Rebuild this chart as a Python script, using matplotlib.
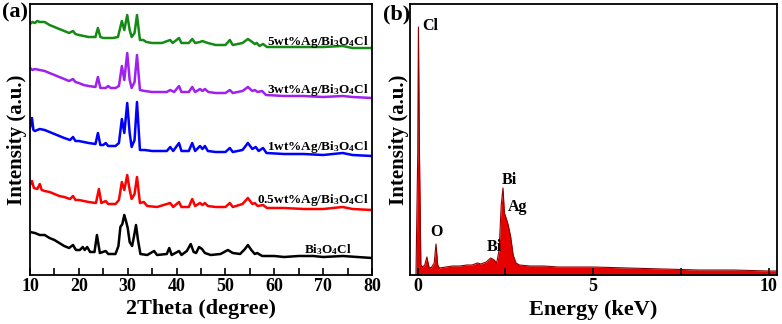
import matplotlib
matplotlib.use('Agg')
import matplotlib.pyplot as plt

plt.rcParams['font.family'] = 'Liberation Serif'
plt.rcParams['font.weight'] = 'bold'
plt.rcParams['mathtext.fontset'] = 'custom'
plt.rcParams['mathtext.rm'] = 'Liberation Serif:bold'
plt.rcParams['mathtext.it'] = 'Liberation Serif:bold'
plt.rcParams['mathtext.bf'] = 'Liberation Serif:bold'

# XRD curves, intensity above each curve's own baseline (a.u.)
bio_x = [10, 11, 12, 13, 14, 15, 16, 17, 18, 18.8, 19.4, 20.2, 20.8, 21.2, 21.7, 22.3, 23.2, 23.7, 24.3,
         25.5, 26, 27.5, 28.1, 28.5, 28.9, 29.3, 29.7, 30.0, 30.4, 30.9, 31.3, 31.7, 32.1, 32.6, 34,
         35.4, 36, 38, 38.5, 39, 40.5, 41, 42.1, 42.9, 43.5, 44, 44.6, 45.2, 45.8, 47, 49, 50.5, 51.5,
         53, 54, 54.6, 55.3, 56, 56.5, 57.5, 60, 62, 65, 68, 70, 74, 77, 80]
bio_y = [26, 25, 23, 23, 20, 18, 15, 12, 10, 13, 8, 8, 11, 8, 11, 6, 6, 23, 5,
         7, 4, 4, 12, 31, 34, 43, 36, 30, 16, 12, 22, 33, 18, 4, 3,
         7, 3, 4, 10, 3, 7, 3, 7, 14, 6, 5, 11, 9, 5, 3, 4, 8, 5,
         4, 9, 13, 8, 4, 5, 2, 2, 1, 2, 2, 1, 2, 1, 0]

ag05_x = [10, 10.4, 10.8, 11.5, 12.0, 12.4, 13, 14, 15, 16, 17, 18.2, 18.8, 19.3, 20, 21, 22, 23.5, 24.1,
          24.6, 25.5, 26, 27.5, 28.2, 28.8, 29.3, 29.9, 30.4, 30.8, 31.4, 31.9, 32.5, 33.3, 34, 36,
          38.7, 39.3, 40.5, 41, 42.5, 43.2, 43.8, 44.8, 45.3, 45.8, 46.4, 48, 50, 50.9, 51.5, 53.5,
          54.6, 55.5, 56, 56.6, 57.7, 58.5, 62, 66, 70, 74, 76, 80]
ag05_y = [25, 29, 22, 21, 26, 20, 19, 18, 16, 14, 13, 11, 14, 10, 10, 9, 8, 7, 21,
          7, 9, 6, 6, 10, 28, 20, 35, 20, 11, 16, 33, 7, 8, 4, 3,
          7, 3, 8, 3, 3, 11, 4, 7, 5, 7, 4, 3, 3, 7, 3, 6,
          12, 6, 7, 4, 5, 2, 2, 1, 1, 3, 1, 0]

ag1_x = [10, 10.4, 10.7, 11, 12, 13, 14, 15, 16, 17, 18.2, 18.8, 19.3, 20, 21, 22, 23.4, 23.9, 24.4,
         25, 25.5, 26, 27.5, 28.2, 28.8, 29.3, 29.9, 30.4, 30.8, 31.4, 31.9, 32.5, 33.5, 35, 38,
         38.7, 39.3, 40.5, 41, 42.5, 43.2, 43.8, 44.8, 45.3, 45.8, 46.4, 48, 50, 50.9, 51.5, 53.5,
         54.6, 55.5, 56.2, 56.8, 57.7, 58.4, 62, 66, 70, 74, 76, 80]
ag1_y = [28, 38, 26, 25, 27, 26, 24, 22, 20, 18, 16, 19, 15, 15, 14, 13, 12, 23, 11,
         11, 13, 10, 10, 13, 37, 23, 53, 23, 9, 16, 54, 6, 6, 5, 5,
         9, 5, 13, 5, 5, 13, 5, 10, 7, 10, 5, 4, 4, 8, 4, 6,
         13, 7, 9, 5, 8, 3, 2, 2, 1, 3, 1, 0]

ag3_x = [10, 10.5, 11, 12, 13, 14, 15, 16, 17, 18, 18.8, 19.3, 20, 21, 22, 23.4, 23.9, 24.4,
         25.5, 26, 26.5, 27.5, 28.2, 28.8, 29.3, 29.9, 30.4, 30.8, 31.4, 31.9, 32.5, 33.5, 35, 38,
         38.7, 39.5, 40.5, 41, 42.5, 43.2, 43.8, 44.8, 45.3, 45.8, 46.5, 48, 50, 50.9, 51.5, 53.5,
         54.6, 55.5, 56, 56.6, 57.5, 58.3, 62, 66, 70, 74, 76, 80]
ag3_y = [30, 28, 29, 28, 27, 25, 23, 21, 19, 17, 19, 16, 15, 13, 12, 11, 21, 10,
         10, 12, 10, 10, 12, 32, 18, 45, 18, 10, 16, 43, 8, 7, 6, 6,
         8, 6, 12, 6, 6, 11, 6, 9, 7, 9, 6, 5, 5, 8, 5, 7,
         11, 7, 8, 6, 7, 3, 2, 2, 1, 2, 1, 0]

ag5_x = [10, 10.5, 11, 11.5, 12, 13, 14, 15, 16, 17, 18, 18.8, 19.3, 20, 21, 22, 23.4, 23.9, 24.4,
         25, 26, 27, 28, 28.8, 29.3, 29.9, 30.4, 30.8, 31.4, 31.9, 32.5, 33.2, 33.8, 35, 37,
         38.7, 39.2, 40.5, 41, 42.5, 43.2, 43.8, 44.8, 45.3, 45.8, 46.4, 48, 50, 50.9, 51.5, 53.5,
         54.6, 55.5, 56, 56.4, 57, 57.7, 58.5, 62, 66, 70, 74, 76, 80]
ag5_y = [24, 26, 25, 27, 26, 26, 23, 21, 19, 17, 15, 17, 14, 13, 12, 11, 11, 20, 11,
         10, 10, 10, 11, 27, 18, 33, 18, 11, 15, 33, 8, 8, 6, 5, 5,
         8, 5, 10, 5, 5, 9, 5, 6, 7, 6, 5, 3, 3, 8, 3, 5,
         9, 6, 4, 5, 2, 4, 1, 1, 1, 1, 2, 0, 0]

xrd_x = [bio_x, ag05_x, ag1_x, ag3_x, ag5_x]
xrd_y = [bio_y, ag05_y, ag1_y, ag3_y, ag5_y]
xrd_names = ['Bi$_3$O$_4$Cl', '0.5wt%Ag/Bi$_3$O$_4$Cl', '1wt%Ag/Bi$_3$O$_4$Cl',
             '3wt%Ag/Bi$_3$O$_4$Cl', '5wt%Ag/Bi$_3$O$_4$Cl']
xrd_colors = ['black', '#ff0000', '#0000ff', '#a020f0', '#158a15']
xrd_offsets = [17, 65, 119, 177, 227]
label_x = [75.9, 79.4, 79.4, 79.4, 79.4]
label_y = [25, 75, 128, 185, 233]

# EDS spectrum
eds_kev = [-0.05, 0.0, 0.02, 0.05, 0.09, 0.14, 0.2, 0.26, 0.32, 0.38, 0.47, 0.52, 0.57, 0.62, 0.8,
           1.0, 1.2, 1.4, 1.55, 1.7, 1.8, 1.95, 2.08, 2.18, 2.25, 2.32, 2.38, 2.43, 2.47, 2.52, 2.58,
           2.65, 2.72, 2.8, 2.9, 3.2, 3.6, 4.0, 5.0, 6.0, 7.0, 8.0, 9.0, 10.0, 10.24]
eds_counts = [0, 120, 248, 120, 10, 8, 10, 18, 8, 7, 12, 31, 10, 7, 8,
              9, 9, 10, 10, 12, 11, 13, 17, 15, 12, 25, 70, 87, 62, 57, 50,
              38, 20, 12, 10, 9, 9, 8, 8, 7, 6, 5, 5, 4, 4]
eds_labels = ['Cl', 'O', 'Bi', 'Ag', 'Bi']
eds_label_x = [0.35, 0.53, 2.62, 2.85, 2.17]
eds_label_y = [249, 43, 95, 68, 28]

fig = plt.figure(figsize=(7.82, 3.24), dpi=100)
ax1 = fig.add_axes([30/782, 49/324, 342/782, 271/324])
ax2 = fig.add_axes([410/782, 49/324, 367/782, 271/324])

for xs, ys, name, c, off, lx, ly in zip(xrd_x, xrd_y, xrd_names, xrd_colors, xrd_offsets, label_x, label_y):
    ax1.plot(xs, [v + off for v in ys], color=c, lw=1.8)
    ax1.text(lx, ly, name, ha='right', va='center', fontsize=9.5, fontweight='bold')

ax1.set_xlim(10, 80)
ax1.set_ylim(0, 271)
ax1.set_xticks(range(10, 81, 10))
ax1.set_xticks(range(15, 80, 10), minor=True)
ax1.set_yticks([])
ax1.set_xlabel('2Theta (degree)', fontsize=16, fontweight='bold')
ax1.set_ylabel('Intensity (a.u.)', fontsize=15, fontweight='bold')
ax1.xaxis.set_label_coords(0.5, -0.088)
ax1.yaxis.set_label_coords(-0.008, 0.5)

ax2.fill_between(eds_kev, 0, eds_counts, color='#e60000', lw=0)
ax2.plot(eds_kev, eds_counts, color='#8b0000', lw=0.8)
for t, x, y in zip(eds_labels, eds_label_x, eds_label_y):
    ax2.text(x, y, t, ha='center', va='center', fontsize=11.5, fontweight='bold')
ax2.set_xlim(-0.22, 10.24)
ax2.set_ylim(0, 271)
ax2.set_xticks([0, 5, 10])
ax2.set_xticks([2.5, 7.5], minor=True)
ax2.set_yticks([])
ax2.set_xlabel('Energy (keV)', fontsize=16, fontweight='bold')
ax2.set_ylabel('Intensity (a.u.)', fontsize=15, fontweight='bold')
ax2.xaxis.set_label_coords(0.5, -0.092)
ax2.yaxis.set_label_coords(-0.004, 0.5)

for ax in (ax1, ax2):
    ax.tick_params(axis='x', which='both', direction='in', length=5, width=1.2, labelsize=13, pad=2)
    for s in ax.spines.values():
        s.set_linewidth(1.3)

fig.text(15/782, 1 - 12/324, '(a)', ha='center', va='center', fontsize=16, fontweight='bold')
fig.text(397/782, 1 - 14/324, '(b)', ha='center', va='center', fontsize=16, fontweight='bold')

fig.savefig('out.png', dpi=100)
